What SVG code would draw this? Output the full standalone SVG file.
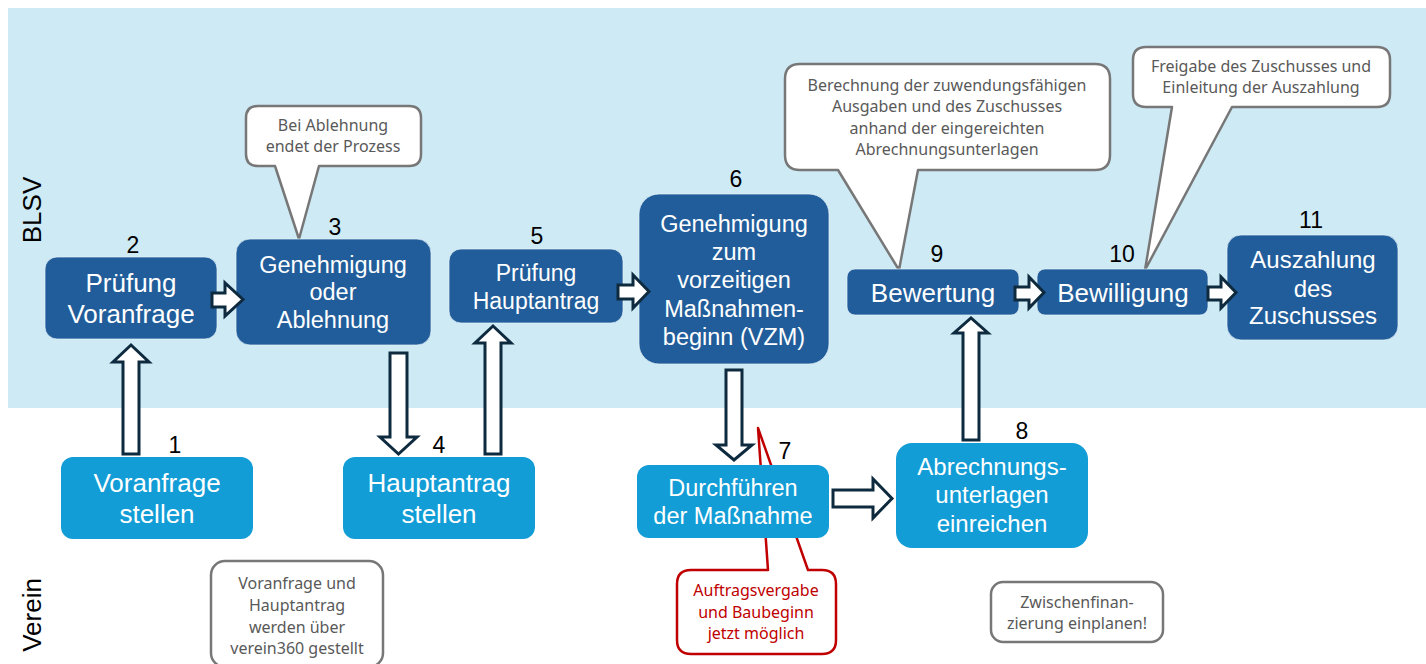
<svg xmlns="http://www.w3.org/2000/svg" width="1426" height="664" viewBox="0 0 1426 664">
<defs>
<style>
.dark{fill:#215d9a;stroke:#e8f4fa;stroke-width:1;stroke-opacity:0.7;}
.light{fill:#139dd6;}
.nt{font-family:"Liberation Sans",Arial,sans-serif;fill:#ffffff;text-anchor:middle;}
.num{font-family:"Liberation Sans",Arial,sans-serif;fill:#000000;text-anchor:middle;font-size:23px;}
.lane{font-family:"Liberation Sans",Arial,sans-serif;fill:#000000;text-anchor:middle;font-size:26px;}
.arrow{fill:#ffffff;stroke:#0e2a3f;stroke-width:3;stroke-linejoin:miter;}
.call{fill:#ffffff;stroke:#777777;stroke-width:2.5;stroke-linejoin:round;}
.callred{fill:#ffffff;stroke:#c00000;stroke-width:2.5;stroke-linejoin:round;}
.ct{font-family:"Noto Sans",sans-serif;fill:#595959;text-anchor:middle;font-size:16px;}
.ctr{font-family:"Noto Sans",sans-serif;fill:#c00000;text-anchor:middle;font-size:16px;}
</style>
</defs>
<rect x="0" y="0" width="1426" height="664" fill="#ffffff"/>
<rect x="8" y="8" width="1418" height="400" fill="#cdeaf5"/>
<text class="lane" transform="translate(41,210) rotate(-90)">BLSV</text>
<text class="lane" transform="translate(41,615) rotate(-90)">Verein</text>

<g id="callout-ablehnung">
<path class="call" d="M258,106 H409 Q421,106 421,118 V154 Q421,166 409,166 H319 L299,239 L275,166 H258 Q246,166 246,154 V118 Q246,106 258,106 Z"/>
<text class="ct" x="333" y="131">Bei Ablehnung</text>
<text class="ct" x="333" y="152">endet der Prozess</text>
</g>
<g id="callout-berechnung">
<path class="call" d="M800,64 H1095 Q1110,64 1110,79 V155 Q1110,170 1095,170 H918 L899,270 L838,170 H800 Q785,170 785,155 V79 Q785,64 800,64 Z"/>
<text class="ct" x="947" y="91">Berechnung der zuwendungsfähigen</text>
<text class="ct" x="947" y="112">Ausgaben und des Zuschusses</text>
<text class="ct" x="947" y="134">anhand der eingereichten</text>
<text class="ct" x="947" y="155">Abrechnungsunterlagen</text>
</g>
<g id="callout-freigabe">
<path class="call" d="M1146,47 H1377 Q1390,47 1390,60 V94 Q1390,107 1377,107 H1232 L1145,270 L1172,107 H1146 Q1133,107 1133,94 V60 Q1133,47 1146,47 Z"/>
<text class="ct" x="1261" y="72">Freigabe des Zuschusses und</text>
<text class="ct" x="1261" y="93">Einleitung der Auszahlung</text>
</g>
<g id="callout-verein360">
<rect class="call" x="211" y="561" width="172" height="106" rx="14"/>
<text class="ct" x="297" y="589">Voranfrage und</text>
<text class="ct" x="297" y="611">Hauptantrag</text>
<text class="ct" x="297" y="633">werden über</text>
<text class="ct" x="297" y="654">verein360 gestellt</text>
</g>
<g id="callout-zwischen">
<rect class="call" x="991" y="582" width="172" height="60" rx="12"/>
<text class="ct" x="1077" y="608">Zwischenfinan-</text>
<text class="ct" x="1077" y="629">zierung einplanen!</text>
</g>
<g id="callout-auftrag">
<path class="callred" d="M691,570 H768 L758,428 L808,570 H822 Q836,570 836,584 V640 Q836,654 822,654 H691 Q677,654 677,640 V584 Q677,570 691,570 Z"/>
<text class="ctr" x="756" y="596">Auftragsvergabe</text>
<text class="ctr" x="756" y="618">und Baubeginn</text>
<text class="ctr" x="756" y="639">jetzt möglich</text>
</g>

<g id="node-1">
<rect class="light" x="61" y="457" width="192" height="82" rx="12"/>
<text class="nt" font-size="26" x="157" y="492">Voranfrage</text>
<text class="nt" font-size="26" x="157" y="523">stellen</text>
<text class="num" x="175" y="453">1</text>
</g>
<g id="node-2">
<rect class="dark" x="45" y="257" width="172" height="82" rx="12"/>
<text class="nt" font-size="26" x="131" y="292">Prüfung</text>
<text class="nt" font-size="26" x="131" y="323">Voranfrage</text>
<text class="num" x="133" y="253">2</text>
</g>
<g id="node-3">
<rect class="dark" x="236" y="239" width="195" height="106" rx="14"/>
<text class="nt" font-size="23.5" x="333" y="273">Genehmigung</text>
<text class="nt" font-size="23.5" x="333" y="300">oder</text>
<text class="nt" font-size="23.5" x="333" y="328">Ablehnung</text>
<text class="num" x="335" y="235">3</text>
</g>
<g id="node-4">
<rect class="light" x="343" y="457" width="192" height="82" rx="12"/>
<text class="nt" font-size="26" x="439" y="492">Hauptantrag</text>
<text class="nt" font-size="26" x="439" y="523">stellen</text>
<text class="num" x="439" y="453">4</text>
</g>
<g id="node-5">
<rect class="dark" x="449" y="249" width="174" height="74" rx="12"/>
<text class="nt" font-size="23" x="536" y="281">Prüfung</text>
<text class="nt" font-size="23" x="536" y="309">Hauptantrag</text>
<text class="num" x="537" y="244">5</text>
</g>
<g id="node-6">
<rect class="dark" x="639" y="194" width="190" height="170" rx="20"/>
<text class="nt" font-size="23.5" x="734" y="232">Genehmigung</text>
<text class="nt" font-size="23.5" x="734" y="260">zum</text>
<text class="nt" font-size="23.5" x="734" y="288">vorzeitigen</text>
<text class="nt" font-size="23.5" x="734" y="317">Maßnahmen-</text>
<text class="nt" font-size="23.5" x="734" y="345">beginn (VZM)</text>
<text class="num" x="736" y="187">6</text>
</g>
<g id="node-7">
<rect class="light" x="637" y="465" width="192" height="73" rx="12"/>
<text class="nt" font-size="23.5" x="733" y="496">Durchführen</text>
<text class="nt" font-size="23.5" x="733" y="524">der Maßnahme</text>
<text class="num" x="785" y="459">7</text>
</g>
<g id="node-8">
<rect class="light" x="896" y="443" width="192" height="105" rx="16"/>
<text class="nt" font-size="24" x="992" y="475">Abrechnungs-</text>
<text class="nt" font-size="24" x="992" y="503">unterlagen</text>
<text class="nt" font-size="24" x="992" y="532">einreichen</text>
<text class="num" x="1022" y="439">8</text>
</g>
<g id="node-9">
<rect class="dark" x="847" y="269" width="172" height="46" rx="8"/>
<text class="nt" font-size="26" x="933" y="302">Bewertung</text>
<text class="num" x="937" y="262">9</text>
</g>
<g id="node-10">
<rect class="dark" x="1037" y="269" width="171" height="46" rx="8"/>
<text class="nt" font-size="26" x="1123" y="302">Bewilligung</text>
<text class="num" x="1122" y="262">10</text>
</g>
<g id="node-11">
<rect class="dark" x="1227" y="235" width="171" height="105" rx="14"/>
<text class="nt" font-size="24" x="1313" y="268">Auszahlung</text>
<text class="nt" font-size="24" x="1313" y="297">des</text>
<text class="nt" font-size="24" x="1313" y="324">Zuschusses</text>
<text class="num" x="1311" y="228">11</text>
</g>

<g id="connectors">
<path class="arrow" d="M123,454 V362 H113 L131,345 L149,362 H139 V454 Z"/>
<path class="arrow" d="M212,293 H225 V283 L243,299.5 L225,316 V307 H212 Z"/>
<path class="arrow" d="M390,353 H407 V437 H417 L398.5,454 L380,437 H390 Z"/>
<path class="arrow" d="M485,454 V343 H475 L493,326 L511,343 H501 V454 Z"/>
<path class="arrow" d="M618,285 H633 V275 L649,291.5 L633,308 V299 H618 Z"/>
<path class="arrow" d="M726,370 H742 V445 H752 L734,460 L716,445 H726 Z"/>
<path class="arrow" d="M833,490 H873 V479 L892,498.5 L873,518 V507 H833 Z"/>
<path class="arrow" d="M963,440 V333 H954 L971,318 L988,333 H979 V440 Z"/>
<path class="arrow" d="M1015,287 H1029 V277 L1044,292.5 L1029,308 V300 H1015 Z"/>
<path class="arrow" d="M1208,287 H1221 V277 L1236,292.5 L1221,308 V300 H1208 Z"/>
</g>
</svg>
